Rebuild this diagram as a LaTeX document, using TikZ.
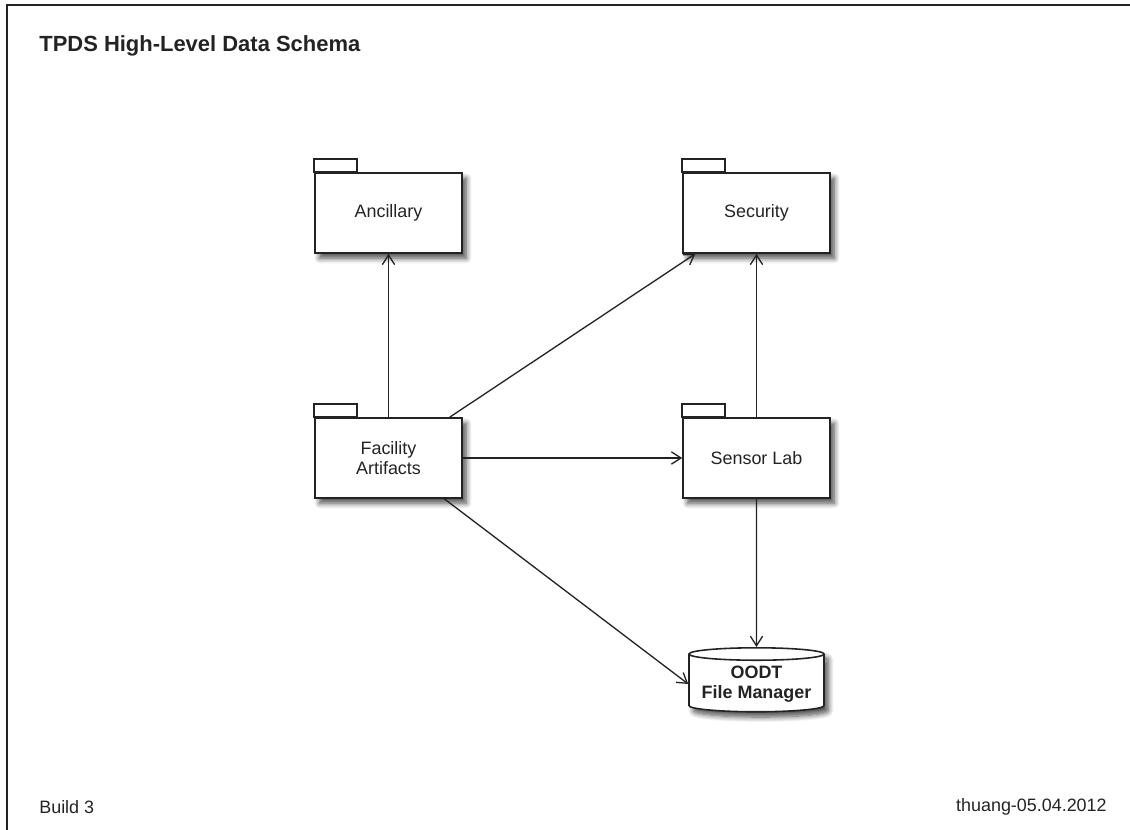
\documentclass[tikz,border=0pt]{standalone}
\usepackage{fontspec}
\setmainfont{Liberation Sans}
\usetikzlibrary{
  arrows.meta,
  calc,
  shapes.geometric,
  shadows.blur
}
\definecolor{inkgray}{RGB}{35,35,35}
\tikzset{
  softshadow/.style={blur shadow={shadow xshift=2.5pt, shadow yshift=-3pt,
      shadow blur steps=8, shadow blur radius=3pt, shadow opacity=70}},
  pkgbox/.style={draw=inkgray, line width=0.9pt, fill=white,
    minimum width=2.94cm, minimum height=1.6cm,
    align=center, text=inkgray, font=\fontsize{10.2}{11.5}\selectfont,
    softshadow},
  pkgtab/.style={draw=inkgray, line width=0.9pt, fill=white},
  dbcyl/.style={cylinder, shape border rotate=90, aspect=0.11,
    draw=inkgray, line width=0.9pt, fill=white, inner xsep=1pt, inner ysep=1pt,
    minimum width=2.7cm, minimum height=1.28cm,
    align=center, text=inkgray, font=\bfseries\fontsize{10.2}{11.6}\selectfont,
    softshadow},
  arr/.style={-{Straight Barb[length=5.5pt,width=7pt]}, line width=0.75pt, inkgray},
  plain/.style={inner sep=0pt, text=inkgray},
}

\begin{document}
\begin{tikzpicture}[x=0.02cm, y=-0.02cm]
  \useasboundingbox (0,0) rectangle (1130,830);

  % frame
  \draw[line width=0.8pt, inkgray] (7,830) -- (7,5) -- (1130,5);

  % title and footer
  \node[plain, anchor=west, font=\bfseries\fontsize{12.5}{15}\selectfont]
    (title) at (39,46) {TPDS High-Level Data Schema};
  \node[plain, anchor=west, font=\fontsize{10.2}{12}\selectfont]
    (build) at (39,807) {Build 3};
  \node[plain, anchor=east, font=\fontsize{10.2}{12}\selectfont]
    (stamp) at (1107,807) {thuang-05.04.2012};

  % packages
  \node[pkgbox] (anc)  at (388.5,213) {Ancillary};
  \node[pkgbox] (sec)  at (756.5,213) {Security};
  \node[pkgbox] (fac)  at (388.5,458) {Facility\\Artifacts};
  \node[pkgbox] (sens) at (756.5,458) {Sensor Lab};
  \foreach \n in {anc,sec,fac,sens}
    \draw[pkgtab] (\n.north west) rectangle ++(0.86cm,0.26cm);

  % store
  \node[dbcyl] (db) at (756.5,684) {OODT\\File Manager};

  % dependencies
  \draw[arr] (fac) -- (anc);
  \draw[arr] (fac) -- (sec);
  \draw[arr] (fac) -- (sens);
  \draw[arr] (sens) -- (sec);
  \draw[arr] (sens) -- (db);
  \draw[arr] ($(fac.south)!0.75!(fac.south east)$) -- (db.west);
\end{tikzpicture}
\end{document}
